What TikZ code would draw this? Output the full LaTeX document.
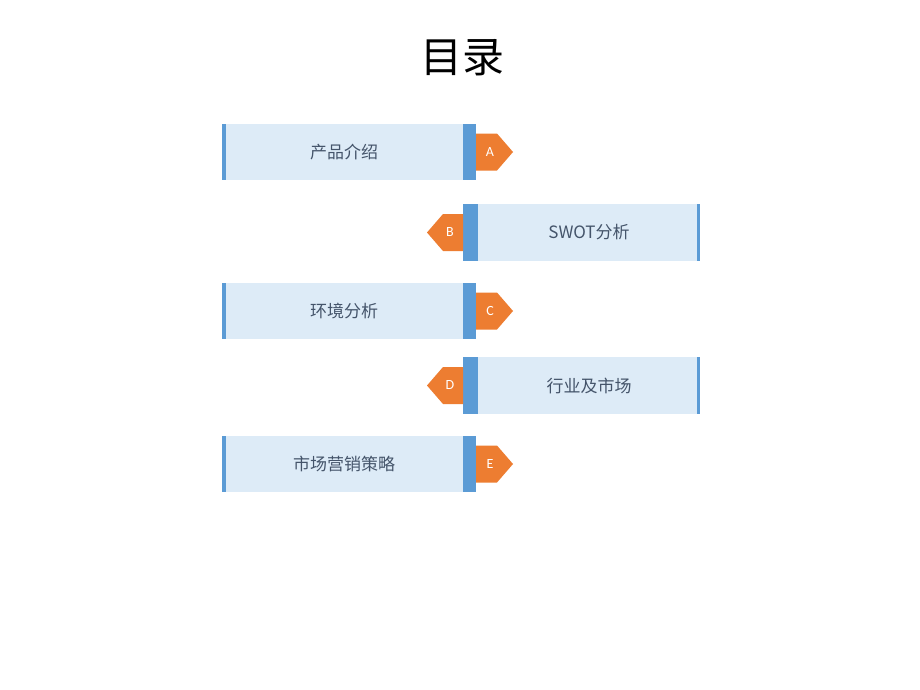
\documentclass[tikz,border=0pt]{standalone}
\usepackage{fontspec}
\newfontfamily\cjk{Noto Sans CJK SC}
\newfontfamily\tagfont{Carlito}
\definecolor{boxfill}{HTML}{DDEBF7}
\definecolor{barblue}{HTML}{5B9BD5}
\definecolor{tagorange}{HTML}{ED7D31}
\definecolor{txt}{HTML}{44546A}
\begin{document}
\begin{tikzpicture}[x=1pt,y=-1pt,
  boxtext/.style={font=\cjk\fontsize{17}{20}\selectfont, text=txt, inner sep=0},
  taglabel/.style={font=\tagfont\fontsize{14}{16}\selectfont, text=white, inner sep=0},
  title/.style={font=\cjk\fontsize{42}{48}\selectfont, text=black, inner sep=0}]
\fill[white] (0,0) rectangle (920,690);
\path[use as bounding box] (0,0) rectangle (920,690);
\node[title] (t) at (462,58) {目录};
\foreach \n/\yt/\lab/\ltr in {a/124/产品介绍/A, c/283/环境分析/C, e/436/市场营销策略/E}{
  \fill[boxfill] (222,\yt) rectangle (476,\yt+56);
  \fill[barblue] (222,\yt) rectangle (225.5,\yt+56);
  \fill[barblue] (463,\yt) rectangle (476,\yt+56);
  \fill[tagorange] (476,\yt+9.5) -- (497,\yt+9.5) -- (513,\yt+28) -- (497,\yt+46.5) -- (476,\yt+46.5) -- cycle;
  \node[boxtext] (box\n) at (344,\yt+28) {\lab};
  \node[taglabel] (tag\n) at (490,\yt+28) {\ltr};
}
\foreach \n/\yt/\lab/\ltr in {b/204/SWOT分析/B, d/357/行业及市场/D}{
  \fill[boxfill] (463,\yt) rectangle (700,\yt+57);
  \fill[barblue] (463,\yt) rectangle (478,\yt+57);
  \fill[barblue] (696.5,\yt) rectangle (700,\yt+57);
  \fill[tagorange] (463,\yt+10) -- (443,\yt+10) -- (427,\yt+28.5) -- (443,\yt+47) -- (463,\yt+47) -- cycle;
  \node[boxtext] (box\n) at (589,\yt+28.5) {\lab};
  \node[taglabel] (tag\n) at (450,\yt+28.5) {\ltr};
}
\end{tikzpicture}
\end{document}
